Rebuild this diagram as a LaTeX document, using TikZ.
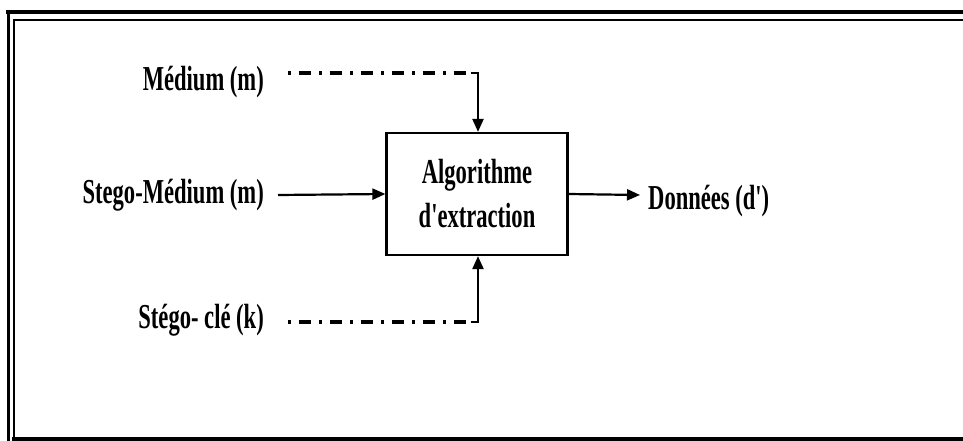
\documentclass[tikz,border=0pt]{standalone}
\usepackage{fontspec}
\setmainfont[FakeStretch=0.645,Ligatures=TeXOff]{Liberation Serif}
\usetikzlibrary{arrows.meta}
\begin{document}
\begin{tikzpicture}[x=1pt,y=-1pt,
  lbl/.style={inner sep=0pt,font=\bfseries\fontsize{35}{44}\selectfont},
  flow/.style={line width=2.2pt,-{Triangle[length=13pt,width=11pt]}},
  keyline/.style={line width=3.2pt,dash pattern=on 3pt off 7.5pt on 12pt off 8.5pt},
  frameline/.style={line cap=rect}]
  % page area and frame
  \useasboundingbox (0,0) rectangle (963,441);
  \fill[white] (0,0) rectangle (963,441);
  \draw[frameline,line width=4.5pt] (8,12) -- (963,12);
  \draw[frameline,line width=2.6pt] (8.5,12) -- (8.5,441);
  \draw[frameline,line width=2pt] (14,20) -- (963,20);
  \draw[frameline,line width=2pt] (14,20) -- (14,439);
  \draw[frameline,line width=4.5pt] (14,439) -- (963,439);

  % central block
  \node[draw,line width=2.2pt,minimum width=181pt,minimum height=122pt,
        inner sep=0pt,align=center,font=\bfseries\fontsize{35}{44}\selectfont]
        (algo) at (477,194) {Algorithme\\d'extraction};

  % labels
  \node[lbl,anchor=east] (med) at (264,82) {Médium (m)};
  \node[lbl,anchor=east] (smed) at (264,195) {Stego-Médium (m)};
  \node[lbl,anchor=east] (key) at (264,320) {Stégo- clé (k)};
  \node[lbl,anchor=west] (out) at (648,201) {Données (d')};

  % connector corners
  \coordinate (mA) at (288,73);
  \coordinate (mB) at (471,73);
  \coordinate (mC) at (478,73);
  \coordinate (kA) at (288,322);
  \coordinate (kB) at (471,322);
  \coordinate (kC) at (478,322);

  % connectors
  \draw[flow] (smed.east -| 278,0) -- (algo.west);
  \draw[flow] (algo.east) -- (640,195);
  \draw[keyline] (mA) -- (mB);
  \draw[flow] (mB) -- (mC) -- (algo.north -| mC);
  \draw[keyline] (kA) -- (kB);
  \draw[flow] (kB) -- (kC) -- (algo.south -| kC);
\end{tikzpicture}
\end{document}
